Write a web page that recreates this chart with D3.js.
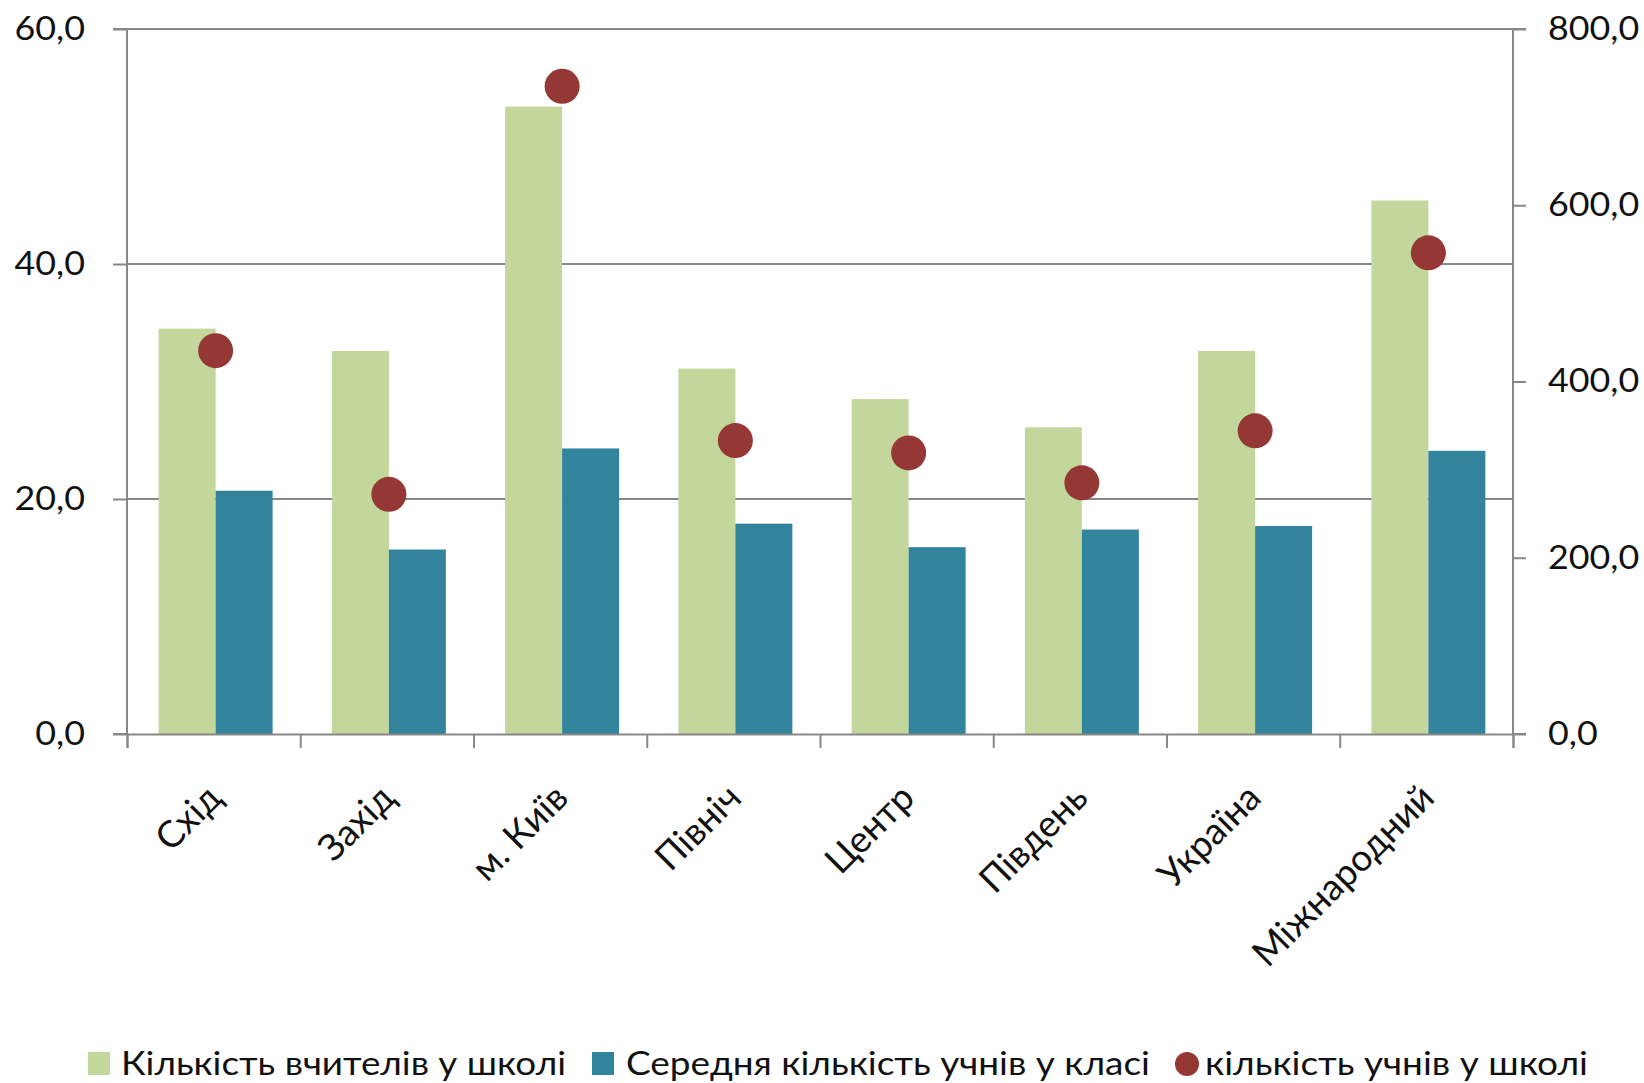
<!DOCTYPE html>
<html>
<head>
<meta charset="utf-8">
<script src="https://cdn.jsdelivr.net/npm/d3@7"></script>
<style>
  html, body { margin: 0; padding: 0; background: #ffffff; }
  svg { display: block; font-family: Lato, "Open Sans", sans-serif; }
</style>
</head>
<body>
<svg id="chart" width="1644" height="1083"></svg>
<script>
// ---- data ----
const categories = ["Схід", "Захід", "м. Київ", "Північ", "Центр", "Південь", "Україна", "Міжнародний"];
const teachersPerSchool = [34.5, 32.6, 53.4, 31.1, 28.5, 26.1, 32.6, 45.4];
const studentsPerClass = [20.7, 15.7, 24.3, 17.9, 15.9, 17.4, 17.7, 24.1];
const studentsPerSchool = [435, 272, 735, 333, 319, 285, 344, 546];
const leftTicks = [0, 20, 40, 60];
const rightTicks = [0, 200, 400, 600, 800];
const seriesNames = ["Кількість вчителів у школі", "Середня кількість учнів у класі", "кількість учнів у школі"];

// ---- layout ----
const L = 127, R = 1513, T = 29, B = 734;
const colors = { green: "#c3d69b", blue: "#31849b", dot: "#953735", axis: "#878787" };
const fontSize = 32;
const shift = 2;

const svg = d3.select("#chart");

const x0 = d3.scaleBand().domain(categories).range([L, R]).paddingInner(0).paddingOuter(0);
const x1 = d3.scaleBand().domain(["t", "c"]).range([0, x0.bandwidth()]).paddingInner(0).paddingOuter(0.52);
const yL = d3.scaleLinear().domain([0, 60]).range([B, T]);
const yR = d3.scaleLinear().domain([0, 800]).range([B, T]);

const fmt = d => d.toFixed(1).replace(".", ",");

// gridlines
svg.append("g").selectAll("line").data(leftTicks.filter(d => d > 0)).join("line")
  .attr("x1", L).attr("x2", R)
  .attr("y1", d => yL(d)).attr("y2", d => yL(d))
  .attr("stroke", colors.axis).attr("stroke-width", 2);

// bars
const groups = svg.append("g").selectAll("g").data(categories).join("g")
  .attr("transform", d => `translate(${x0(d) + shift},0)`);
groups.append("rect")
  .attr("x", x1("t")).attr("width", x1.bandwidth())
  .attr("y", (d, i) => yL(teachersPerSchool[i]))
  .attr("height", (d, i) => B - yL(teachersPerSchool[i]))
  .attr("fill", colors.green);
groups.append("rect")
  .attr("x", x1("c")).attr("width", x1.bandwidth())
  .attr("y", (d, i) => yL(studentsPerClass[i]))
  .attr("height", (d, i) => B - yL(studentsPerClass[i]))
  .attr("fill", colors.blue);

// axes
const axL = svg.append("g").attr("transform", `translate(${L},0)`)
  .call(d3.axisLeft(yL).tickValues(leftTicks).tickSize(14).tickPadding(28).tickFormat(fmt));
const axR = svg.append("g").attr("transform", `translate(${R},0)`)
  .call(d3.axisRight(yR).tickValues(rightTicks).tickSize(13).tickPadding(22).tickFormat(fmt));
const xb = d3.scaleLinear().domain([0, categories.length]).range([L, R]);
const axB = svg.append("g").attr("transform", `translate(0,${B})`)
  .call(d3.axisBottom(xb).tickValues(d3.range(categories.length + 1)).tickSize(14).tickFormat(""));

[axL, axR, axB].forEach(a => {
  a.select(".domain").attr("stroke", colors.axis).attr("stroke-width", 2);
  a.selectAll(".tick line").attr("stroke", colors.axis).attr("stroke-width", 2);
  a.selectAll(".tick text").attr("font-size", fontSize).attr("fill", "#111").attr("font-family", "Lato, 'Open Sans', sans-serif");
});
[axL, axR].forEach(a => {
  a.selectAll(".tick text").each(function () {
    const w = this.getComputedTextLength();
    d3.select(this).attr("textLength", w * 1.12).attr("lengthAdjust", "spacingAndGlyphs");
  });
});
axL.select(".domain").attr("d", `M-14,${T}H0V${B}H-14`);
axR.select(".domain").attr("d", `M13,${T}H0V${B}H13`);

// dots
svg.append("g").selectAll("circle").data(categories).join("circle")
  .attr("cx", d => x0(d) + x0.bandwidth() / 2 + shift)
  .attr("cy", (d, i) => yR(studentsPerSchool[i]))
  .attr("r", 17.5)
  .attr("fill", colors.dot);

// category labels
svg.append("g").selectAll("text").data(categories).join("text")
  .attr("transform", d => `translate(${x0(d) + x0.bandwidth() / 2 + 10},${B + 66}) rotate(-45)`)
  .attr("text-anchor", "end")
  .attr("font-size", 37)
  .attr("fill", "#111")
  .text(d => d);

// legend
const legendItems = [
  { name: seriesNames[0], type: "rect", color: colors.green, mx: 88, tx: 121, len: 445 },
  { name: seriesNames[1], type: "rect", color: colors.blue, mx: 592, tx: 626, len: 524 },
  { name: seriesNames[2], type: "circle", color: colors.dot, mx: 1175, tx: 1205, len: 383 }
];
const lg = svg.append("g");
legendItems.forEach(it => {
  if (it.type === "rect") {
    lg.append("rect").attr("x", it.mx).attr("y", 1052).attr("width", 22).attr("height", 23).attr("fill", it.color);
  } else {
    lg.append("circle").attr("cx", it.mx + 12).attr("cy", 1064).attr("r", 12).attr("fill", it.color);
  }
  lg.append("text").attr("x", it.tx).attr("y", 1075)
    .attr("font-size", fontSize).attr("fill", "#111")
    .attr("textLength", it.len).attr("lengthAdjust", "spacingAndGlyphs")
    .text(it.name);
});
</script>
</body>
</html>
